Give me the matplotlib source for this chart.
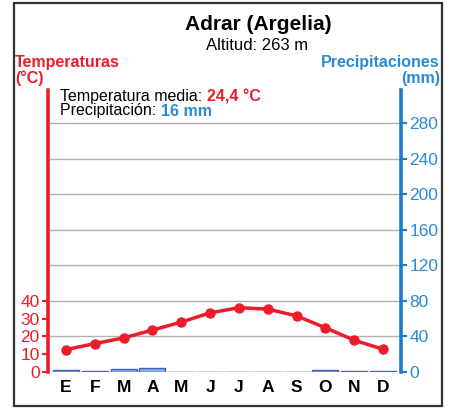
import matplotlib
matplotlib.use("Agg")
import matplotlib.pyplot as plt
from matplotlib.patches import Rectangle

plt.rcParams['font.family'] = ['Liberation Sans', 'DejaVu Sans']

# Climograma de Adrar (Argelia)
meses = ['E', 'F', 'M', 'A', 'M', 'J', 'J', 'A', 'S', 'O', 'N', 'D']
temperaturas = [12.6, 16.0, 19.2, 23.6, 28.1, 33.3, 36.2, 35.4, 31.6, 24.9, 17.9, 12.8]
precipitaciones = [2, 1, 3, 4, 0.5, 0.2, 0, 0.3, 0.5, 2.5, 1, 1]
ticks_temp = [0, 10, 20, 30, 40]
ticks_prec = [0, 40, 80, 120, 160, 200, 240, 280]

rojo = '#ec1c2b'
azul = '#1a7cc9'
azul_txt = '#2a8ad6'

fig = plt.figure(figsize=(4.51, 4.09), dpi=100)

# marco exterior
fig.patches.append(Rectangle((14 / 451, 3 / 409), 428 / 451, 403 / 409,
                             transform=fig.transFigure, fill=False,
                             edgecolor='#333333', lw=1.6))

ax = fig.add_axes([48 / 451, 37 / 409, 353 / 451, 282 / 409])
x = range(len(meses))
ax.bar(x, precipitaciones, width=0.9, color='#78b6ef', edgecolor='#4a5cb5', lw=1, zorder=3)
ax.set_xlim(-0.625, 11.625)
ax.set_ylim(0, 317.5)
ax.grid(axis='y', color='#b0b0b0', lw=1, zorder=0)
ax.set_axisbelow(True)
ax.set_xticks(list(x))
ax.set_xticklabels(meses, fontweight='bold', fontsize=12.5)
ax.tick_params(axis='x', length=0, pad=6)
for s in ['top', 'left', 'bottom']:
    ax.spines[s].set_visible(False)
ax.spines['right'].set_color(azul)
ax.spines['right'].set_linewidth(2.6)

# temperatura: 10 °C equivalen a 20 mm
axt = ax.twinx()
axt.plot(x, temperaturas, color=rojo, lw=2.5, marker='o', ms=6.5, zorder=4)
axt.set_ylim(0, 317.5 / 2)
axt.set_yticks(ticks_temp)
axt.yaxis.tick_left()
axt.tick_params(axis='y', colors=rojo, labelsize=12.5, length=4, width=1.5, pad=2)
for s in ['top', 'right', 'bottom']:
    axt.spines[s].set_visible(False)
axt.spines['left'].set_color(rojo)
axt.spines['left'].set_linewidth(2.6)

# eje de precipitaciones a la derecha (despues de twinx)
ax.yaxis.tick_right()
ax.set_yticks(ticks_prec)
ax.tick_params(axis='y', labelcolor=azul_txt, labelsize=12.5, length=4, width=1.5,
               pad=2, color=azul)

# titulos
fig.text(258 / 451, 1 - 24 / 409, 'Adrar (Argelia)', ha='center', va='center',
         fontsize=15, fontweight='bold')
fig.text(257 / 451, 1 - 45 / 409, 'Altitud: 263 m', ha='center', va='center', fontsize=12)

fig.text(15 / 451, 1 - 63 / 409, 'Temperaturas', ha='left', va='center',
         fontsize=11.5, fontweight='bold', color=rojo)
fig.text(15 / 451, 1 - 78 / 409, '(°C)', ha='left', va='center',
         fontsize=11.5, fontweight='bold', color=rojo)
fig.text(440 / 451, 1 - 63 / 409, 'Precipitaciones', ha='right', va='center',
         fontsize=11.5, fontweight='bold', color=azul_txt)
fig.text(440 / 451, 1 - 78 / 409, '(mm)', ha='right', va='center',
         fontsize=11.5, fontweight='bold', color=azul_txt)

t1 = fig.text(60 / 451, 1 - 97 / 409, 'Temperatura media: ', ha='left', va='center', fontsize=11.5)
ax.annotate('24,4 °C', xy=(1, 0), xycoords=t1, va='bottom', ha='left',
            fontsize=11.5, fontweight='bold', color=rojo)
t2 = fig.text(60 / 451, 1 - 111 / 409, 'Precipitación: ', ha='left', va='center', fontsize=11.5)
ax.annotate('16 mm', xy=(1, 0), xycoords=t2, va='bottom', ha='left',
            fontsize=11.5, fontweight='bold', color=azul_txt)

fig.savefig('out.png', dpi=100)
